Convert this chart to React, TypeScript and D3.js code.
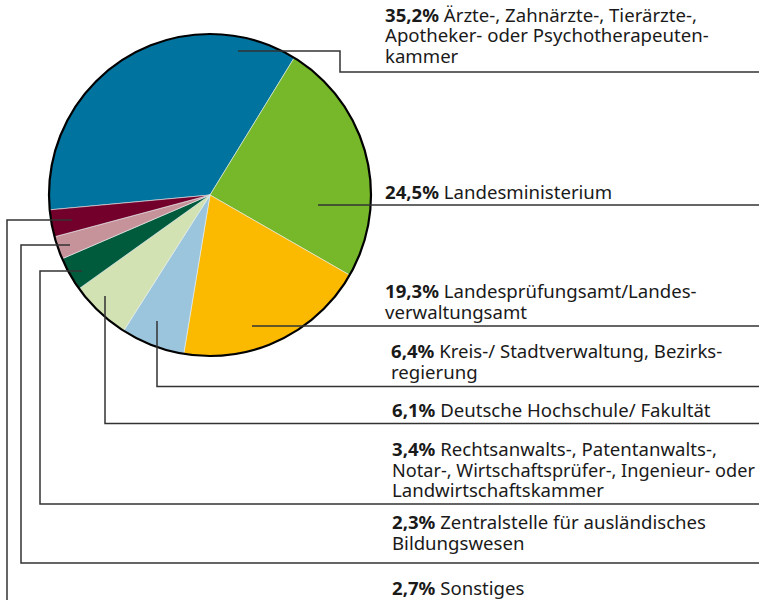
import React, { useLayoutEffect, useRef } from "react";
import * as d3 from "d3";

const categories = [
  "Ärzte-, Zahnärzte-, Tierärzte-, Apotheker- oder Psychotherapeutenkammer",
  "Landesministerium",
  "Landesprüfungsamt/Landesverwaltungsamt",
  "Kreis-/ Stadtverwaltung, Bezirksregierung",
  "Deutsche Hochschule/ Fakultät",
  "Rechtsanwalts-, Patentanwalts-, Notar-, Wirtschaftsprüfer-, Ingenieur- oder Landwirtschaftskammer",
  "Zentralstelle für ausländisches Bildungswesen",
  "Sonstiges",
];
const values = [35.2, 24.5, 19.3, 6.4, 6.1, 3.4, 2.3, 2.7];
const percentLabels = ["35,2%", "24,5%", "19,3%", "6,4%", "6,1%", "3,4%", "2,3%", "2,7%"];
const labelLines = [
  ["Ärzte-, Zahnärzte-, Tierärzte-,", "Apotheker- oder Psychotherapeuten-", "kammer"],
  ["Landesministerium"],
  ["Landesprüfungsamt/Landes-", "verwaltungsamt"],
  ["Kreis-/ Stadtverwaltung, Bezirks-", "regierung"],
  ["Deutsche Hochschule/ Fakultät"],
  ["Rechtsanwalts-, Patentanwalts-,", "Notar-, Wirtschaftsprüfer-, Ingenieur- oder", "Landwirtschaftskammer"],
  ["Zentralstelle für ausländisches", "Bildungswesen"],
  ["Sonstiges"],
];
const colors = ["#00739f", "#76b82a", "#fbba00", "#9ac5dc", "#d2e2b3", "#005b3d", "#c7939a", "#72002a"];

// layout (annotation geometry)
const W = 759, H = 600;
const cx = 210, cy = 195, R = 161;
const labelX = [385, 385, 385, 391, 392, 392, 392, 392];
const labelBaseline = [21.5, 199, 298, 358, 417, 456, 529, 595];
const lineGap = 20.6;
const FONT_SIZE = 18.6;
const leaders: [number, number][][] = [
  [[238, 51], [340, 51], [340, 72], [W, 72]],
  [[318, 205], [W, 205]],
  [[252, 326], [W, 326]],
  [[157, 321], [157, 386.5], [W, 386.5]],
  [[105, 296], [105, 423.5], [W, 423.5]],
  [[82, 271], [40, 271], [40, 504], [W, 504]],
  [[70, 245], [21, 245], [21, 563], [W, 563]],
  [[72, 220], [7, 220], [7, H + 2]],
];

const FONT = "'Noto Sans', sans-serif";

export default function App() {
  const svgRef = useRef<SVGSVGElement>(null);
  const pie = d3
    .pie<number>()
    .sort(null)
    .value((d) => d)
    .startAngle((-95.3 * Math.PI) / 180)
    .endAngle((264.7 * Math.PI) / 180);
  const arcs = pie(values);
  const arc = d3.arc<d3.PieArcDatum<number>>().innerRadius(0).outerRadius(R);
  const line = d3.line();

  useLayoutEffect(() => {
    if (!svgRef.current) return;
    d3.select(svgRef.current)
      .selectAll<SVGTextElement, unknown>("text.lbl")
      .each(function () {
        const x = +(this.getAttribute("x") || 0);
        const len = this.getComputedTextLength();
        const maxLen = W - 4 - x;
        if (len > maxLen) {
          this.setAttribute("font-size", String((FONT_SIZE * maxLen) / len));
        }
      });
  }, []);

  return (
    <svg
      ref={svgRef}
      width={W}
      height={H}
      style={{ position: "absolute", left: 0, top: 0, background: "#fff" }}
      fontFamily={FONT}
    >
      <g transform={`translate(${cx},${cy})`}>
        {arcs.map((a, i) => (
          <path key={i} d={arc(a) || ""} fill={colors[i]} stroke="#e8eef0" strokeWidth={0.6} />
        ))}
        <circle r={R} fill="none" stroke="#000" strokeWidth={2.2} />
      </g>
      {leaders.map((pts, i) => (
        <path key={i} d={line(pts) || ""} fill="none" stroke="#333" strokeWidth={1.5} />
      ))}
      {labelLines.map((lines, i) =>
        lines.map((l, j) => (
          <text
            key={`${i}-${j}`}
            className="lbl"
            x={labelX[i]}
            y={labelBaseline[i] + j * lineGap}
            fontSize={FONT_SIZE}
            fill="#1a1a1a"
          >
            {j === 0 ? (
              <>
                <tspan fontWeight="bold">{percentLabels[i]}</tspan>
                <tspan>{" " + l}</tspan>
              </>
            ) : (
              l
            )}
          </text>
        ))
      )}
    </svg>
  );
}
